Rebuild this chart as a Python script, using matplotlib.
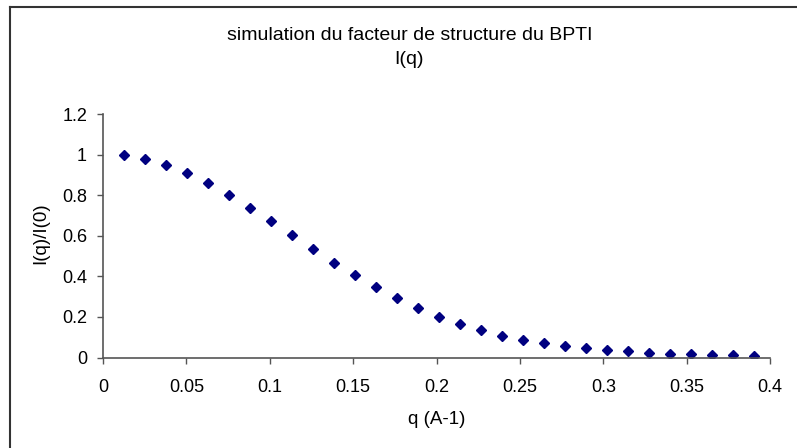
import matplotlib
matplotlib.use("Agg")
import matplotlib.pyplot as plt
from matplotlib.lines import Line2D

plt.rcParams['font.family'] = ['Liberation Sans', 'DejaVu Sans']

q = [0.0126, 0.0252, 0.0378, 0.0504, 0.0630, 0.0756, 0.0882, 0.1008, 0.1134, 0.1260,
     0.1386, 0.1512, 0.1638, 0.1764, 0.1890, 0.2016, 0.2142, 0.2268, 0.2394, 0.2520,
     0.2646, 0.2772, 0.2898, 0.3024, 0.3150, 0.3276, 0.3402, 0.3528, 0.3654, 0.3780,
     0.3906]
intensity = [1.000, 0.977, 0.948, 0.908, 0.859, 0.800, 0.738, 0.672, 0.604, 0.535,
             0.468, 0.405, 0.346, 0.294, 0.244, 0.202, 0.166, 0.134, 0.108, 0.087,
             0.069, 0.056, 0.045, 0.037, 0.030, 0.024, 0.019, 0.016, 0.012, 0.011,
             0.009]
x_ticks = [0, 0.05, 0.1, 0.15, 0.2, 0.25, 0.3, 0.35, 0.4]
x_tick_labels = ["0", "0.05", "0.1", "0.15", "0.2", "0.25", "0.3", "0.35", "0.4"]
y_ticks = [0, 0.2, 0.4, 0.6, 0.8, 1.0, 1.2]
y_tick_labels = ["0", "0.2", "0.4", "0.6", "0.8", "1", "1.2"]

W, H = 797, 448
fig = plt.figure(figsize=(W / 100, H / 100), dpi=100)
ax = fig.add_axes([103 / W, 1 - 357.5 / H, (770 - 103) / W, (357.5 - 114) / H])

ax.plot(q, intensity, linestyle='none', marker='D', markersize=5.6,
        color='#000080', markeredgecolor='#000080')

ax.set_xlim(0, 0.4)
ax.set_ylim(0, 1.2)
ax.set_xticks(x_ticks)
ax.set_xticklabels(x_tick_labels)
ax.set_yticks(y_ticks)
ax.set_yticklabels(y_tick_labels)
for s in ['top', 'right']:
    ax.spines[s].set_visible(False)
for s in ['left', 'bottom']:
    ax.spines[s].set_color('#555555')
    ax.spines[s].set_linewidth(1.2)
ax.tick_params(axis='both', direction='out', length=4.5, width=1.0, color='#555555',
               labelsize=13, labelcolor='black')
ax.tick_params(axis='x', pad=11)
ax.tick_params(axis='y', pad=7)

ax.set_xlabel("q (A-1)", fontsize=13.5)
ax.xaxis.set_label_coords(436.5 / W, 1 - 419 / H, transform=fig.transFigure)
ax.xaxis.label.set_va('center')
ax.set_ylabel("I(q)/I(0)", fontsize=13.5)
ax.yaxis.set_label_coords(40.7 / W, 1 - 233.5 / H, transform=fig.transFigure)
ax.yaxis.label.set_va('center')

fig.text(409.5 / W, 1 - 36 / H, "simulation du facteur de structure du BPTI",
         ha='center', va='center', fontsize=14)
fig.text(409.5 / W, 1 - 59 / H, "I(q)", ha='center', va='center', fontsize=14)

# chart frame (only top and left edges visible in the picture)
fig.add_artist(Line2D([9.5 / W, 9.5 / W], [1 - 7 / H, 0], transform=fig.transFigure,
                      color='#333333', linewidth=1.5))
fig.add_artist(Line2D([9.5 / W, 1], [1 - 7 / H, 1 - 7 / H], transform=fig.transFigure,
                      color='#333333', linewidth=1.5))

fig.savefig("out.png", dpi=100)
